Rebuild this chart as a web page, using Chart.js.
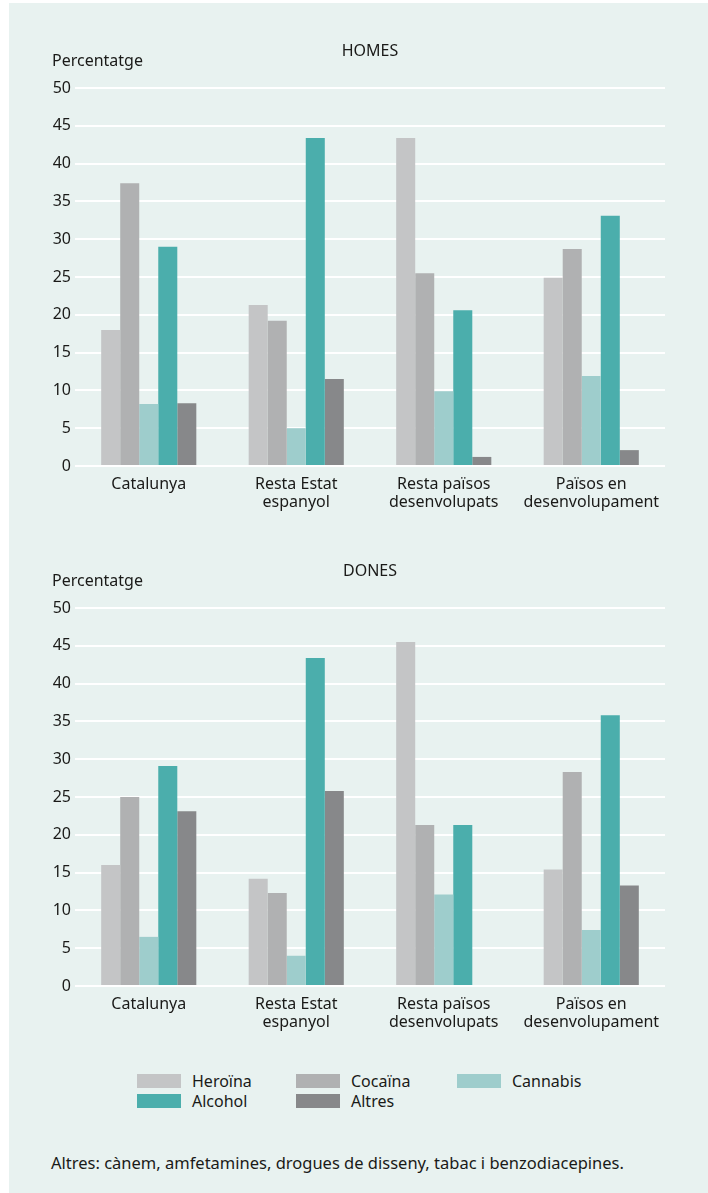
<!DOCTYPE html>
<html>
<head>
<meta charset="utf-8">
<script src="https://cdn.jsdelivr.net/npm/chart.js@4/dist/chart.umd.min.js"></script>
<style>
  body { margin: 0; background: #fff; font-family: "Noto Sans", sans-serif; color: #1a1a18; }
  #page { position: relative; width: 708px; height: 1193px; overflow: hidden; }
  #panel { position: absolute; left: 9px; top: 3px; right: 0; bottom: 0; background: #e8f2f0; }
  .box { position: absolute; left: 0; width: 708px; height: 520px; }
  .box canvas { position: absolute; left: 0; top: 0; }
  .title { position: absolute; left: 270px; width: 200px; text-align: center; font-size: 16px; line-height: 18px; }
  .ylab { position: absolute; left: 52px; font-size: 16px; line-height: 18px; }
  #legend { position: absolute; left: 137px; top: 1072px; width: 480px; font-size: 16px; }
  .item { position: absolute; height: 18px; line-height: 18px; white-space: nowrap; }
  .item span.sw { position: absolute; left: 0; top: 2px; width: 44px; height: 14px; }
  .item span.tx { position: absolute; left: 55px; top: 0; }
  #note { position: absolute; left: 51px; top: 1154px; font-size: 16.5px; line-height: 18px; white-space: nowrap; }
</style>
</head>
<body>
<div id="page">
  <div id="panel"></div>
  <div class="box" style="top:0">
    <canvas id="homes" width="708" height="520"></canvas>
    <div class="title" style="top:41px">HOMES</div>
    <div class="ylab" style="top:51px">Percentatge</div>
  </div>
  <div class="box" style="top:520px">
    <canvas id="dones" width="708" height="520"></canvas>
    <div class="title" style="top:41px">DONES</div>
    <div class="ylab" style="top:51px">Percentatge</div>
  </div>
  <div id="legend"></div>
  <div id="note">Altres: cànem, amfetamines, drogues de disseny, tabac i benzodiacepines.</div>
</div>
<script>
'use strict';

const categories = [
  'Catalunya',
  ['Resta Estat', 'espanyol'],
  ['Resta països', 'desenvolupats'],
  ['Països en', 'desenvolupament']
];
const seriesNames = ['Heroïna', 'Cocaïna', 'Cannabis', 'Alcohol', 'Altres'];
const seriesColors = ['#c4c5c6', '#b0b1b2', '#9ecdcc', '#4baeac', '#87888a'];
const yTicks = [0, 5, 10, 15, 20, 25, 30, 35, 40, 45, 50];

// HOMES
const homesHeroina = [18.0, 21.3, 43.4, 24.9];
const homesCocaina = [37.4, 19.2, 25.5, 28.7];
const homesCannabis = [8.2, 5.0, 9.9, 11.9];
const homesAlcohol = [29.0, 43.4, 20.6, 33.1];
const homesAltres = [8.3, 11.5, 1.2, 2.1];

// DONES
const donesHeroina = [16.0, 14.2, 45.5, 15.4];
const donesCocaina = [25.0, 12.3, 21.3, 28.3];
const donesCannabis = [6.5, 4.0, 12.1, 7.4];
const donesAlcohol = [29.1, 43.4, 21.3, 35.8];
const donesAltres = [23.1, 25.8, null, 13.3];

const FONT = { family: '"Noto Sans", sans-serif', size: 16, lineHeight: 1.15 };
Chart.defaults.color = '#1a1a18';

function makeChart(id, seriesData) {
  const ctx = document.getElementById(id).getContext('2d');
  return new Chart(ctx, {
    type: 'bar',
    data: {
      labels: categories,
      datasets: seriesData.map((vals, i) => ({
        label: seriesNames[i],
        data: vals,
        backgroundColor: seriesColors[i],
        borderWidth: 0,
        categoryPercentage: 0.645,
        barPercentage: 1
      }))
    },
    options: {
      responsive: false,
      animation: false,
      layout: { padding: { left: 0, right: 43, top: 88, bottom: 0 } },
      plugins: { legend: { display: false }, tooltip: { enabled: false } },
      scales: {
        x: {
          grid: { display: false, drawTicks: false },
          border: { display: false },
          ticks: { font: FONT, padding: 9, maxRotation: 0, autoSkip: false },
          afterFit: scale => { scale.height = 54; }
        },
        y: {
          min: 0,
          max: 50,
          afterBuildTicks: scale => { scale.ticks = yTicks.map(v => ({ value: v })); },
          grid: { color: '#ffffff', lineWidth: 2, drawTicks: false, tickLength: 0 },
          border: { display: false },
          ticks: { font: FONT, padding: 4 },
          afterFit: scale => { scale.width = 75; }
        }
      }
    }
  });
}

makeChart('homes', [homesHeroina, homesCocaina, homesCannabis, homesAlcohol, homesAltres]);
makeChart('dones', [donesHeroina, donesCocaina, donesCannabis, donesAlcohol, donesAltres]);

// legend in the same grid as the reference
const legend = document.getElementById('legend');
const colX = [0, 159, 320];
seriesNames.forEach((name, i) => {
  const el = document.createElement('div');
  el.className = 'item';
  el.style.left = colX[i % 3] + 'px';
  el.style.top = (Math.floor(i / 3) * 20) + 'px';
  el.innerHTML = '<span class="sw" style="background:' + seriesColors[i] + '"></span><span class="tx">' + name + '</span>';
  legend.appendChild(el);
});
</script>
</body>
</html>
